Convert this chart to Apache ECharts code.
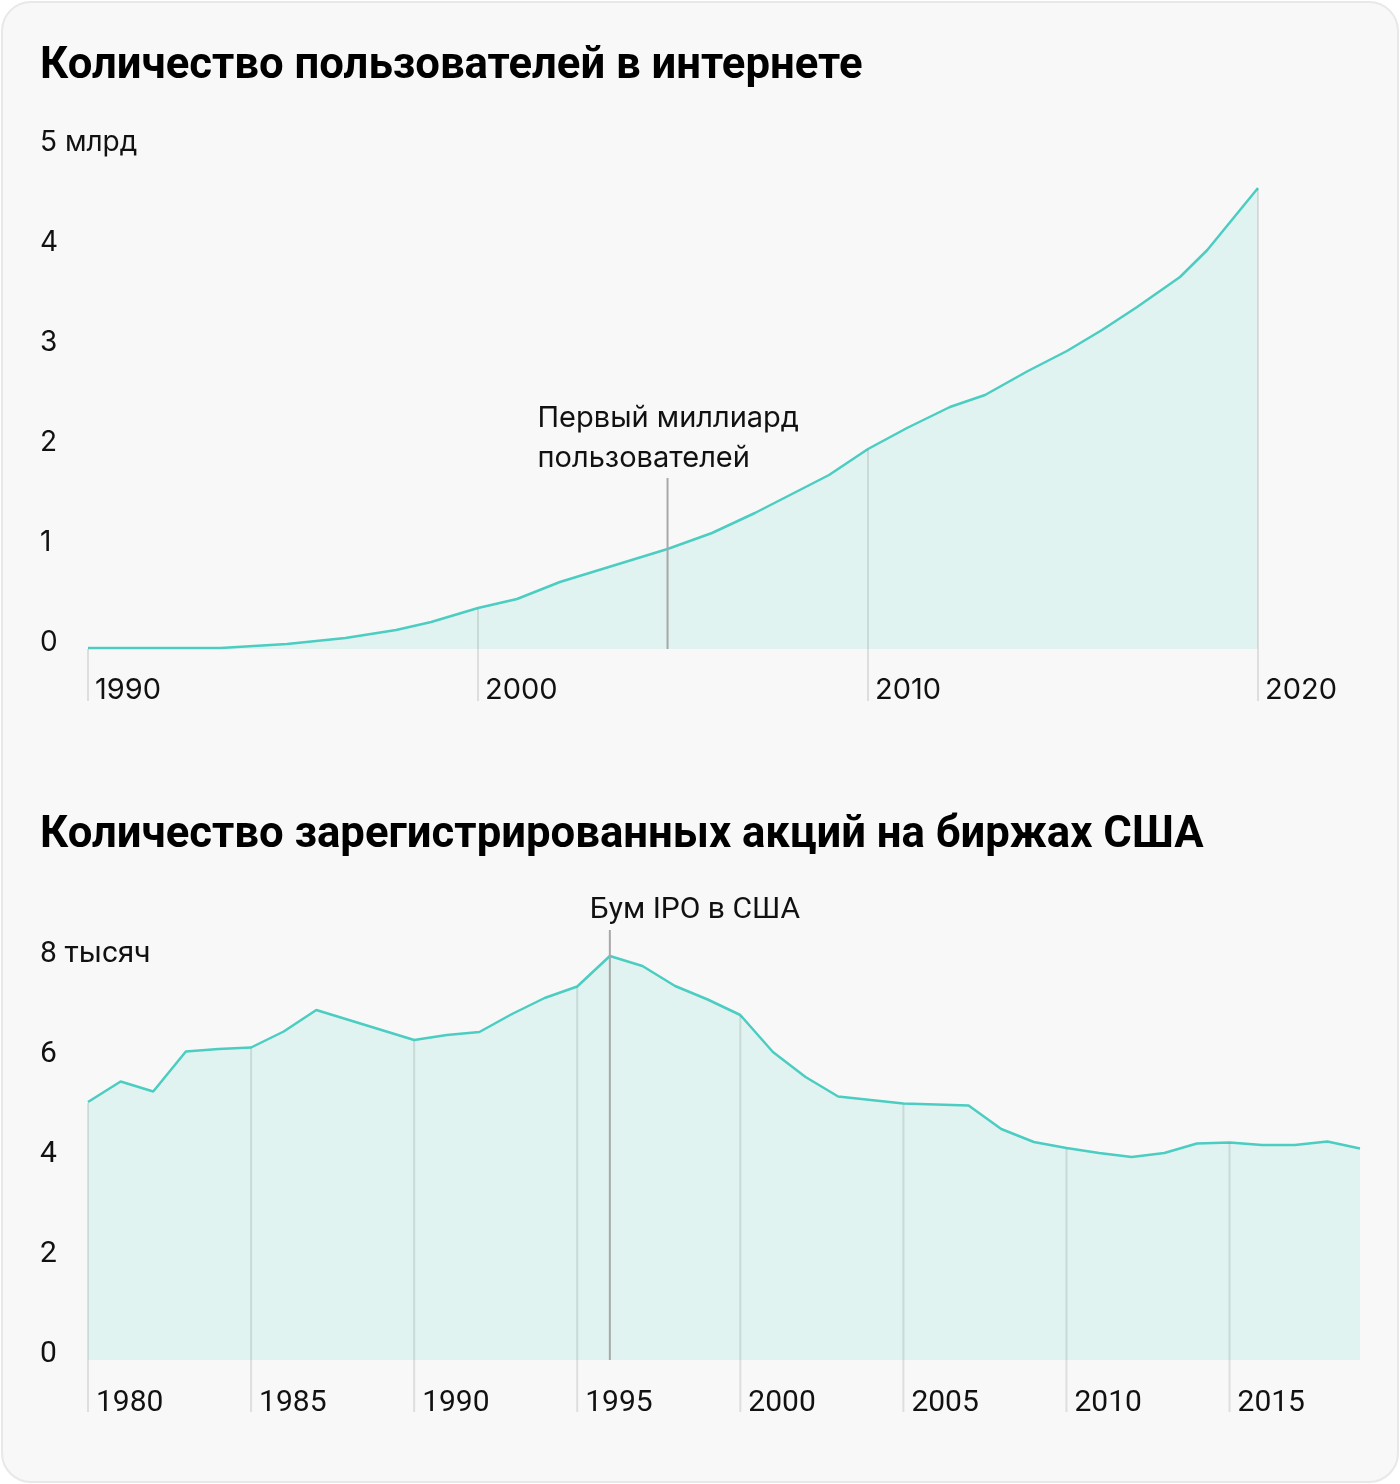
<!DOCTYPE html>
<html>
<head>
<meta charset="utf-8">
<script src="https://cdn.jsdelivr.net/npm/echarts@6/dist/echarts.min.js"></script>
<style>
  html, body { margin: 0; padding: 0; background: #ffffff; }
  #card { position: absolute; left: 1px; top: 1px; width: 1394px; height: 1478px;
          border: 2px solid #e8e8e8; border-radius: 30px; background: #f8f8f8; }
  #chart { position: absolute; left: 0; top: 0; width: 1400px; height: 1484px; }
</style>
</head>
<body>
<div id="card"></div>
<div id="chart"></div>
<script>
// ---------- Chart 1: internet users (billions) ----------
const internetTitle = 'Количество пользователей в интернете';
const internetYears = [1990, 1993.4, 1995.1, 1996.6, 1997.9, 1998.8, 2000, 2001, 2002.1, 2004.86,
                       2006, 2007.1, 2008, 2009, 2010, 2011, 2012.1, 2013, 2014.1, 2015.1,
                       2016, 2016.9, 2018, 2018.7, 2020];
const internetUsers = [0.01, 0.01, 0.05, 0.11, 0.19, 0.27, 0.41, 0.50, 0.67, 1.00,
                       1.16, 1.36, 1.54, 1.74, 2.00, 2.21, 2.42, 2.54, 2.78, 2.98,
                       3.19, 3.42, 3.72, 3.99, 4.61];
const internetTicks = [1990, 2000, 2010, 2020];
const internetUnit = 'млрд';
const internetAnnoYear = [2004.86];
const internetAnnoTop = [1.71];
const internetAnnoText = ['Первый миллиард\nпользователей'];

// ---------- Chart 2: listed companies in the US (thousands) ----------
const stocksTitle = 'Количество зарегистрированных акций на биржах США';
const stocksYears = [1980, 1981, 1982, 1983, 1984, 1985, 1986, 1987, 1988, 1989,
                     1990, 1991, 1992, 1993, 1994, 1995, 1996, 1997, 1998, 1999,
                     2000, 2001, 2002, 2003, 2004, 2005, 2006, 2007, 2008, 2009,
                     2010, 2011, 2012, 2013, 2014, 2015, 2016, 2017, 2018, 2019];
const stocksCount = [5.16, 5.57, 5.37, 6.17, 6.22, 6.25, 6.57, 7.00, 6.80, 6.60,
                     6.40, 6.50, 6.56, 6.92, 7.24, 7.47, 8.08, 7.88, 7.48, 7.21,
                     6.90, 6.16, 5.66, 5.27, 5.20, 5.13, 5.11, 5.09, 4.62, 4.36,
                     4.24, 4.14, 4.06, 4.14, 4.33, 4.35, 4.30, 4.30, 4.37, 4.23];
const stocksTicks = [1980, 1985, 1990, 1995, 2000, 2005, 2010, 2015];
const stocksUnit = 'тысяч';
const stocksAnnoYear = [1996];
const stocksAnnoTop = [8.6];
const stocksAnnoText = ['Бум IPO в США'];

// ---------- styling ----------
const LINE = '#4bcdc1';
const AREA = '#e0f3f0';
const GRIDC = 'rgba(0,0,0,0.10)';
const ANNOC = '#a8a8a8';
const TXT = '#111111';

const pairs = (xs, ys) => xs.map((x, i) => [x, ys[i]]);
const tickPairs = (ticks, xs, ys) => ticks.map(t => [t, ys[xs.indexOf(t)]]);

function gridRender(params, api) {
  const top = api.coord([api.value(0), api.value(1)]);
  const base = api.coord([api.value(0), 0]);
  return { type: 'line', silent: true,
    shape: { x1: top[0], y1: top[1] + 1, x2: top[0], y2: base[1] + 52 },
    style: { stroke: GRIDC, lineWidth: 2 } };
}
function annoRender(texts, dx, font) {
  return function (params, api) {
    const top = api.coord([api.value(0), api.value(1)]);
    const base = api.coord([api.value(0), 0]);
    return { type: 'group', children: [
      { type: 'line', shape: { x1: top[0], y1: top[1], x2: top[0], y2: base[1] },
        style: { stroke: ANNOC, lineWidth: 2 } },
      { type: 'text', style: { text: texts[params.dataIndex], x: top[0] + dx[params.dataIndex], y: top[1],
          align: 'left', verticalAlign: 'bottom', lineHeight: 40,
          fontFamily: font.family, fontSize: font.size, fill: TXT } }
    ]};
  };
}

const chart = echarts.init(document.getElementById('chart'), null, { renderer: 'canvas' });
const option = {
  backgroundColor: 'transparent',
  animation: false,
  title: [
    { text: internetTitle, left: 40, top: 45, padding: 0,
      textStyle: { fontFamily: 'Roboto', fontWeight: 'bold', fontSize: 43.7, lineHeight: 44, color: '#000' } },
    { text: stocksTitle, left: 40, top: 814, padding: 0,
      textStyle: { fontFamily: 'Roboto', fontWeight: 'bold', fontSize: 43.7, lineHeight: 44, color: '#000' } }
  ],
  grid: [
    { left: 88, top: 149, width: 1170, height: 500 },
    { left: 88, top: 960, width: 1272, height: 400 }
  ],
  xAxis: [
    { type: 'value', gridIndex: 0, min: 1990, max: 2020, interval: 10,
      axisLine: { show: false }, axisTick: { show: false }, splitLine: { show: false },
      axisLabel: { color: TXT, fontFamily: 'Inter', fontSize: 29, lineHeight: 29, margin: 27,
        align: 'left', padding: [0, 0, 0, 7], formatter: v => String(v) } },
    { type: 'value', gridIndex: 1, min: 1980, max: 2019, interval: 5,
      axisLine: { show: false }, axisTick: { show: false }, splitLine: { show: false },
      axisLabel: { color: TXT, fontFamily: 'Roboto', fontSize: 30, lineHeight: 30, margin: 28,
        align: 'left', padding: [0, 0, 0, 8], formatter: v => (v % 5 === 0 ? String(v) : '') } }
  ],
  yAxis: [
    { type: 'value', gridIndex: 0, min: 0, max: 5, interval: 1,
      axisLine: { show: false }, axisTick: { show: false }, splitLine: { show: false },
      axisLabel: { color: TXT, fontFamily: 'Inter', fontSize: 28, lineHeight: 12, margin: 48,
        align: 'left', verticalAlign: 'bottom',
        formatter: v => (v === 5 ? v + ' ' + internetUnit : String(v)) } },
    { type: 'value', gridIndex: 1, min: 0, max: 8, interval: 2,
      axisLine: { show: false }, axisTick: { show: false }, splitLine: { show: false },
      axisLabel: { color: TXT, fontFamily: 'Roboto', fontSize: 30, lineHeight: 12, margin: 48,
        align: 'left', verticalAlign: 'bottom',
        formatter: v => (v === 8 ? v + ' ' + stocksUnit : String(v)) } }
  ],
  series: [
    { type: 'line', xAxisIndex: 0, yAxisIndex: 0, data: pairs(internetYears, internetUsers),
      symbol: 'none', clip: false, z: 2,
      lineStyle: { color: LINE, width: 2.5 }, areaStyle: { color: AREA, opacity: 1 } },
    { type: 'custom', xAxisIndex: 0, yAxisIndex: 0, z: 3, silent: true,
      data: tickPairs(internetTicks, internetYears, internetUsers), renderItem: gridRender },
    { type: 'custom', xAxisIndex: 0, yAxisIndex: 0, z: 4, silent: true,
      data: pairs(internetAnnoYear, internetAnnoTop),
      renderItem: annoRender(internetAnnoText, [-130], { family: 'Inter', size: 29 }) },

    { type: 'line', xAxisIndex: 1, yAxisIndex: 1, data: pairs(stocksYears, stocksCount),
      symbol: 'none', clip: false, z: 2,
      lineStyle: { color: LINE, width: 2.5 }, areaStyle: { color: AREA, opacity: 1 } },
    { type: 'custom', xAxisIndex: 1, yAxisIndex: 1, z: 3, silent: true,
      data: tickPairs(stocksTicks, stocksYears, stocksCount), renderItem: gridRender },
    { type: 'custom', xAxisIndex: 1, yAxisIndex: 1, z: 4, silent: true,
      data: pairs(stocksAnnoYear, stocksAnnoTop),
      renderItem: annoRender(stocksAnnoText, [-20], { family: 'Roboto', size: 30 }) }
  ]
};
chart.setOption(option);
</script>
</body>
</html>
